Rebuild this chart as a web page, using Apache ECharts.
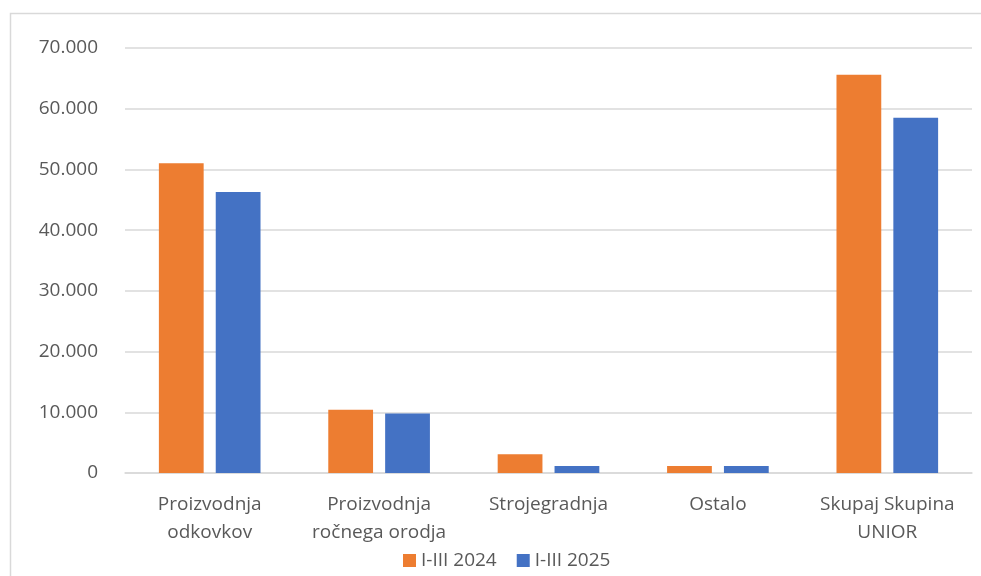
<!DOCTYPE html>
<html>
<head>
<meta charset="utf-8">
<script src="https://cdn.jsdelivr.net/npm/echarts@6/dist/echarts.min.js"></script>
<style>html,body{margin:0;padding:0;background:#fff;}#c{width:981px;height:576px;}</style>
</head>
<body>
<div id="c"></div>
<script>
const categories = ['Proizvodnja\nodkovkov', 'Proizvodnja\nročnega orodja', 'Strojegradnja', 'Ostalo', 'Skupaj Skupina\nUNIOR'];
const seriesNames = ['I-III 2024', 'I-III 2025'];
const values2024 = [51000, 10400, 3100, 1150, 65600];
const values2025 = [46300, 9800, 1150, 1150, 58500];
const yTicks = { min: 0, max: 70000, interval: 10000 };

const fmt = v => String(v).replace(/\B(?=(\d{3})+(?!\d))/g, '.');
const font = '"Open Sans", sans-serif';
const chart = echarts.init(document.getElementById('c'), null, { renderer: 'canvas' });
chart.setOption({
  animation: false,
  backgroundColor: '#ffffff',
  color: ['#ED7D31', '#4472C4'],
  graphic: [{
    type: 'rect', silent: true, z: -1,
    shape: { x: 10.5, y: 13.5, width: 1000, height: 700 },
    style: { fill: 'none', stroke: '#d9d9d9', lineWidth: 1.5 }
  }],
  grid: { left: 125, right: 9, top: 48, bottom: 103, containLabel: false },
  legend: {
    bottom: 1, left: 398, itemWidth: 13, itemHeight: 13, itemGap: 20,
    icon: 'rect',
    textStyle: { color: '#595959', fontSize: 19, fontFamily: font },
    data: seriesNames
  },
  xAxis: {
    type: 'category', data: categories,
    axisLine: { lineStyle: { color: '#d9d9d9', width: 1.5 } },
    axisTick: { show: false },
    axisLabel: { color: '#595959', fontSize: 19, fontFamily: font, margin: 18, lineHeight: 28, interval: 0 }
  },
  yAxis: {
    type: 'value', min: yTicks.min, max: yTicks.max, interval: yTicks.interval,
    axisLine: { show: false }, axisTick: { show: false },
    splitLine: { lineStyle: { color: '#d9d9d9', width: 1.5 } },
    axisLabel: { color: '#595959', fontSize: 19, fontFamily: font, margin: 27, formatter: fmt }
  },
  series: [
    { name: seriesNames[0], type: 'bar', data: values2024, barGap: '27%', barCategoryGap: '40%' },
    { name: seriesNames[1], type: 'bar', data: values2025, barGap: '27%', barCategoryGap: '40%' }
  ]
});
</script>
</body>
</html>
